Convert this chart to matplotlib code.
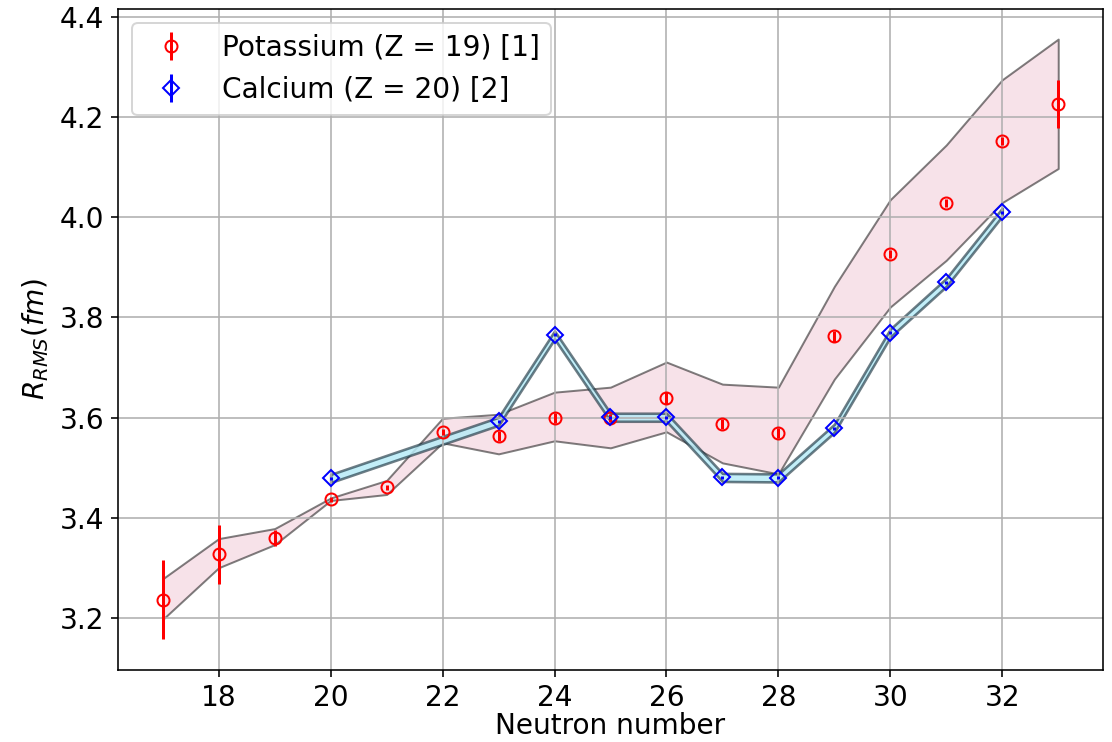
import matplotlib
matplotlib.use('Agg')
import matplotlib.pyplot as plt

plt.rcParams['font.size'] = 14

# Potassium (Z = 19)
k_n = [17, 18, 19, 20, 21, 22, 23, 24, 25, 26, 27, 28, 29, 30, 31, 32, 33]
k_r = [3.237, 3.328, 3.361, 3.437, 3.461, 3.572, 3.563, 3.599, 3.600, 3.639,
       3.587, 3.569, 3.762, 3.926, 4.028, 4.151, 4.225]
k_err = [0.079, 0.059, 0.016, 0.005, 0.005, 0.006, 0.010, 0.010, 0.008, 0.012,
         0.010, 0.010, 0.010, 0.008, 0.008, 0.008, 0.048]
k_upper = [3.279, 3.359, 3.379, 3.440, 3.475, 3.599, 3.607, 3.651, 3.661, 3.711,
           3.667, 3.661, 3.862, 4.035, 4.144, 4.274, 4.355]
k_lower = [3.198, 3.301, 3.347, 3.435, 3.447, 3.550, 3.528, 3.554, 3.540, 3.572,
           3.510, 3.488, 3.677, 3.821, 3.914, 4.029, 4.097]

# Calcium (Z = 20)
ca_n = [20, 23, 24, 25, 26, 27, 28, 29, 30, 31, 32]
ca_r = [3.479, 3.593, 3.765, 3.601, 3.601, 3.481, 3.480, 3.579, 3.769, 3.870, 4.010]
ca_err = [0.003, 0.003, 0.003, 0.003, 0.003, 0.003, 0.003, 0.003, 0.003, 0.003, 0.003]
ca_upper = [3.487, 3.601, 3.773, 3.609, 3.609, 3.489, 3.488, 3.587, 3.777, 3.878, 4.018]
ca_lower = [3.471, 3.585, 3.757, 3.593, 3.593, 3.473, 3.472, 3.571, 3.761, 3.862, 4.002]

W, H, DPI = 1112, 742, 144
fig = plt.figure(figsize=(W / DPI, H / DPI), dpi=DPI)
ax = fig.add_axes([118 / W, 72 / H, (1103 - 118) / W, (670 - 9) / H])

ax.fill_between(k_n, k_lower, k_upper, facecolor=(0.86, 0.44, 0.58, 0.2),
                edgecolor=(0, 0, 0, 0.5), linewidth=1.0)
ax.fill_between(ca_n, ca_lower, ca_upper, facecolor=(0.72, 0.92, 0.97, 0.85),
                edgecolor=(0.05, 0.15, 0.2, 0.6), linewidth=1.3)

ax.errorbar(k_n, k_r, yerr=k_err, fmt='o', color='red', mfc='none',
            label='Potassium (Z = 19) [1]')
ax.errorbar(ca_n, ca_r, yerr=ca_err, fmt='D', color='blue', mfc='none',
            label='Calcium (Z = 20) [2]')

ax.grid(True)
ax.set_xlim(16.2, 33.8)
ax.set_ylim(3.097, 4.415)
ax.set_xlabel('Neutron number', labelpad=0)
ax.set_ylabel(r'$R_{RMS}(fm)$')
ax.legend(loc='upper left')

fig.savefig('out.png', dpi=DPI)
